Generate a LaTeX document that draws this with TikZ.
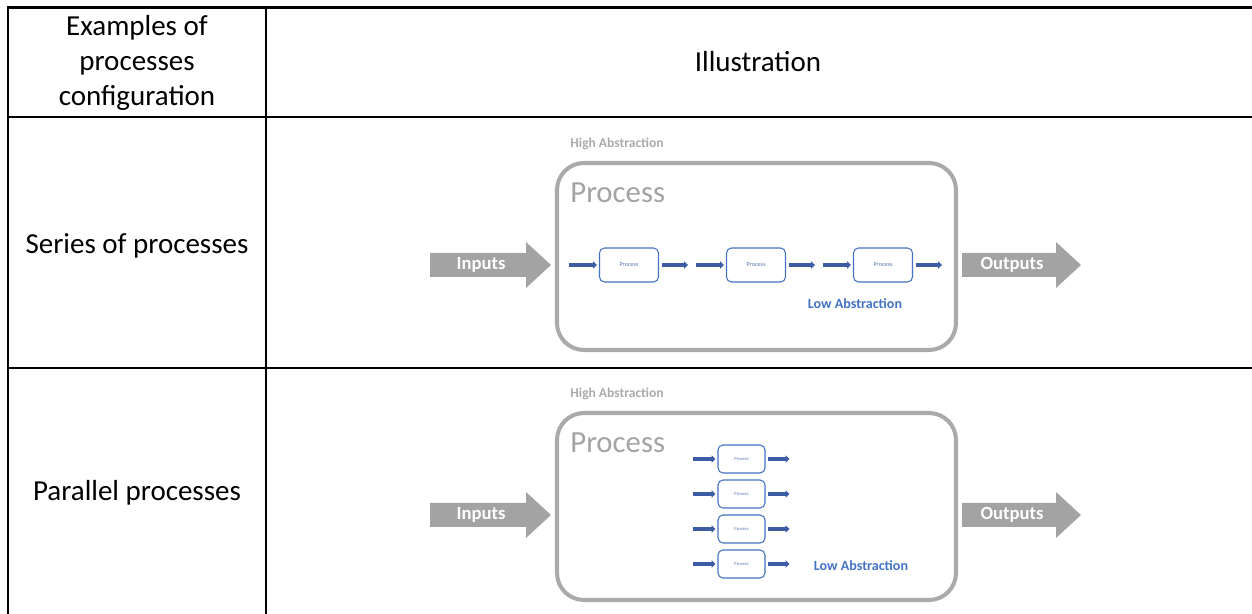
\documentclass[tikz,border=0pt]{standalone}
\usepackage{fontspec}
\setmainfont{Carlito}
\usetikzlibrary{arrows.meta,positioning,calc}
\definecolor{slate}{RGB}{163,163,163}
\definecolor{frame}{RGB}{170,170,170}
\definecolor{royal}{RGB}{68,114,196}
\definecolor{navy}{RGB}{60,92,165}

\begin{document}
\begin{tikzpicture}[x=0.02cm,y=-0.02cm,
    tbl/.style={line width=1.55pt,line join=miter},
    cell/.style={align=center,font=\fontsize{16.5}{19.9}\selectfont},
    pbox/.style={draw=royal,line width=0.6pt,rounded corners=0.1cm,fill=white,text=royal!70!gray,inner sep=0pt},
    stub/.style={navy,line width=1.8pt,-{Triangle[length=2.2pt,width=4pt]}}]
        \useasboundingbox (0,0) rectangle (1252,614);
        % table
        \draw[tbl] (1252,7.5) -| (8,614);
        \draw[tbl] (266,7.5) -- (266,614);
        \foreach \y in {117,368} \draw[tbl] (8,\y) -- (1252,\y);
        \node[cell] (h1) at (137,63) {Examples of\\processes\\configuration};
        \node[cell] (h2) at (758,62) {Illustration};
        \node[cell] (r1) at (137,246) {Series of processes};
        \node[cell] (r2) at (137,493) {Parallel processes};
        % the two illustrations
        \foreach \dy/\n in {0/s,250/p} {
          \node[text=frame,font=\fontsize{7.7}{9}\selectfont\bfseries] (ha\n) at (617,144+\dy) {High Abstraction};
          \draw[frame,line width=2.3pt,rounded corners=0.54cm] (557,163+\dy) rectangle (956,350+\dy);
          \node[text=slate,font=\fontsize{17.5}{20}\selectfont,anchor=west,inner sep=0pt] (big\n) at (570,193+\dy) {Process};
          \fill[slate] (430,253+\dy) -- (526,253+\dy) -- (526,242+\dy) -- (551,265+\dy) -- (526,288+\dy) -- (526,277+\dy) -- (430,277+\dy) -- cycle;
          \node[white,font=\fontsize{10.6}{12}\selectfont\bfseries] (in\n) at (481,265+\dy) {Inputs};
          \fill[slate] (962,253+\dy) -- (1056,253+\dy) -- (1056,242+\dy) -- (1081,265+\dy) -- (1056,288+\dy) -- (1056,277+\dy) -- (962,277+\dy) -- cycle;
          \node[white,font=\fontsize{10.6}{12}\selectfont\bfseries] (out\n) at (1012,265+\dy) {Outputs};
        }
        % series
        \foreach \i in {1,2,3} {
          \node[pbox,minimum width=1.18cm,minimum height=0.68cm,font=\fontsize{3.5}{4}\selectfont] (s\i) at (502+127*\i,265) {Process};
          \draw[stub] ($(s\i.west)+(-30,0)$) -- ($(s\i.west)+(-2,0)$);
          \draw[stub] ($(s\i.east)+(3,0)$) -- ($(s\i.east)+(29,0)$);
        }
        \node[text=royal,font=\fontsize{8}{9}\selectfont\bfseries] (las) at (855,304) {Low Abstraction};
        % parallel
        \foreach \i in {1,...,4} {
          \node[pbox,minimum width=0.94cm,minimum height=0.56cm,font=\fontsize{2.6}{3}\selectfont] (p\i) at (741.5,424+35*\i) {Process};
          \draw[stub] ($(p\i.west)+(-24,0)$) -- ($(p\i.west)+(-2,0)$);
          \draw[stub] ($(p\i.east)+(2,0)$) -- ($(p\i.east)+(24,0)$);
        }
        \node[text=royal,font=\fontsize{8}{9}\selectfont\bfseries] (lap) at (861,566) {Low Abstraction};
      \end{tikzpicture}
\end{document}
